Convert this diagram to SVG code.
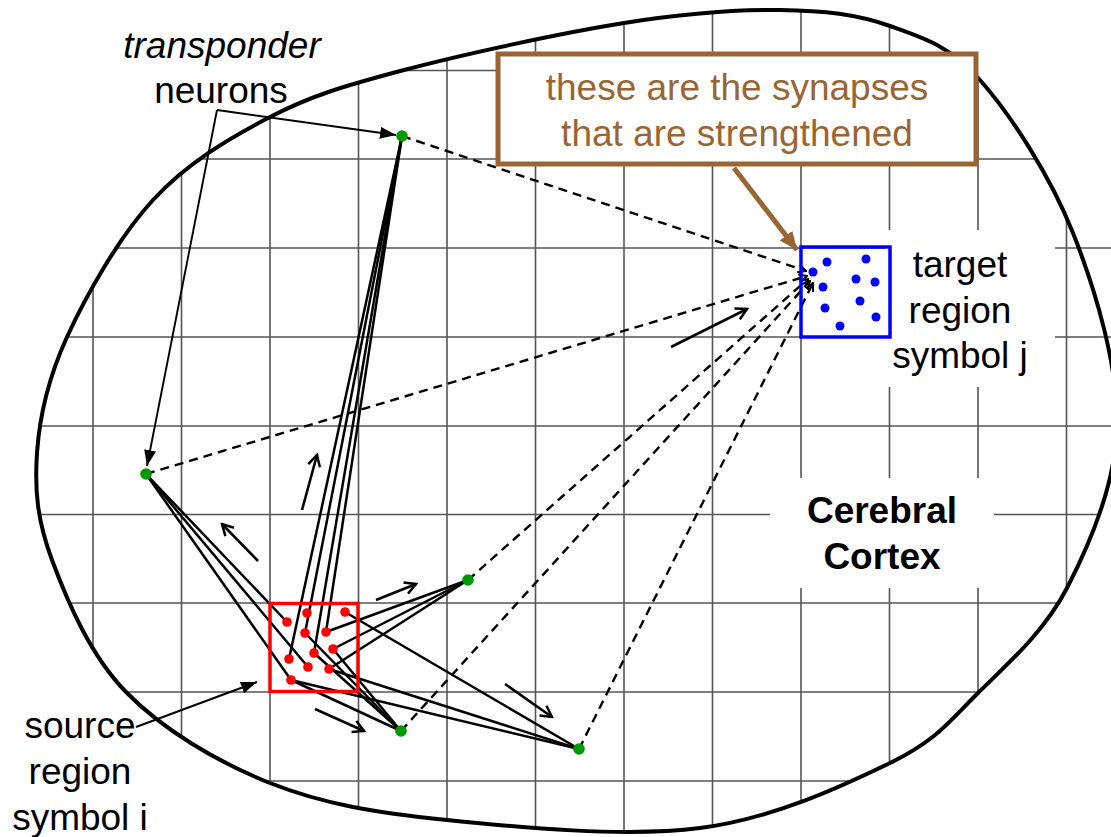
<svg xmlns="http://www.w3.org/2000/svg" width="1111" height="837" viewBox="0 0 1111 837">
<style>
.grid line{stroke:#555;stroke-width:1.6}
.txt{font-family:"Liberation Sans",Arial,sans-serif;font-size:37px;fill:#000;text-anchor:middle}
.solid{stroke:#000;stroke-width:2.5;fill:none}
.dash{stroke:#000;stroke-width:2.4;fill:none;stroke-dasharray:9,6;marker-end:url(#openSm)}
.flow{stroke:#000;stroke-width:2.6;fill:none;marker-end:url(#openLg)}
.ptr{stroke:#000;stroke-width:1.9;fill:none;marker-end:url(#tri)}
.g{fill:#009900}
.r{fill:#ff0000}
.b{fill:#0000ff}
</style>
<defs>
<clipPath id="blobClip">
<path id="blobShape" d="M624,23 C686.7,13 735.7,9.5 780,10 C824.3,10.5 856.7,14.3 890,26 C923.3,37.7 949.5,45.5 980,80 C1010.5,114.5 1050.2,175.5 1073,233 C1095.8,290.5 1118,365.8 1117,425 C1116,484.2 1090.2,543.3 1067,588 C1043.8,632.7 1007.5,663.8 978,693 C948.5,722.2 936.3,740.5 890,763 C843.7,785.5 773.8,818.5 700,828 C626.2,837.5 518.7,827.5 447,820 C375.3,812.5 323.5,804.3 270,783 C216.5,761.7 162.3,729.2 126,692 C89.7,654.8 66.8,599.8 52,560 C37.2,520.2 34.5,490.2 37,453 C39.5,415.8 47.7,379.2 67,337 C86.3,294.8 119.2,236.7 153,200 C186.8,163.3 228.2,138.7 270,117 C311.8,95.3 345,85.7 404,70 C463,54.3 561.3,33 624,23 Z"/>
<rect x="1070" y="240" width="41" height="105"/>
</clipPath>
<marker id="openSm" viewBox="0 0 10 10" refX="9" refY="5" markerWidth="10" markerHeight="10" markerUnits="userSpaceOnUse" orient="auto">
<path d="M1,1 L9,5 L1,9" fill="none" stroke="#000" stroke-width="2" stroke-dasharray="none"/>
</marker>
<marker id="openLg" viewBox="0 0 14 14" refX="12" refY="7" markerWidth="14" markerHeight="14" markerUnits="userSpaceOnUse" orient="auto">
<path d="M1,1 L12,7 L1,13" fill="none" stroke="#000" stroke-width="2.5"/>
</marker>
<marker id="tri" viewBox="0 0 16 12" refX="16" refY="6" markerWidth="16" markerHeight="12" markerUnits="userSpaceOnUse" orient="auto">
<path d="M0,0 L16,6 L0,12 Z" fill="#000"/>
</marker>
<marker id="triBrown" viewBox="0 0 18 16" refX="18" refY="8" markerWidth="18" markerHeight="16" markerUnits="userSpaceOnUse" orient="auto">
<path d="M0,0 L18,8 L0,16 Z" fill="#996633"/>
</marker>
</defs>
<rect width="1111" height="837" fill="#fff"/>

<g id="grid" class="grid" clip-path="url(#blobClip)">
<line x1="93" y1="0" x2="93" y2="837"/>
<line x1="181.5" y1="0" x2="181.5" y2="837"/>
<line x1="270" y1="0" x2="270" y2="837"/>
<line x1="358.5" y1="0" x2="358.5" y2="837"/>
<line x1="447" y1="0" x2="447" y2="837"/>
<line x1="535.5" y1="0" x2="535.5" y2="837"/>
<line x1="624" y1="0" x2="624" y2="837"/>
<line x1="712.5" y1="0" x2="712.5" y2="837"/>
<line x1="801" y1="0" x2="801" y2="837"/>
<line x1="889.5" y1="0" x2="889.5" y2="837"/>
<line x1="978" y1="0" x2="978" y2="837"/>
<line x1="1066.5" y1="0" x2="1066.5" y2="837"/>
<line x1="0" y1="70.5" x2="1111" y2="70.5"/>
<line x1="0" y1="159" x2="1111" y2="159"/>
<line x1="0" y1="248" x2="1111" y2="248"/>
<line x1="0" y1="337" x2="1111" y2="337"/>
<line x1="0" y1="426" x2="1111" y2="426"/>
<line x1="0" y1="514.5" x2="1111" y2="514.5"/>
<line x1="0" y1="603" x2="1111" y2="603"/>
<line x1="0" y1="692" x2="1111" y2="692"/>
<line x1="0" y1="781" x2="1111" y2="781"/>
</g>
<g id="text-backgrounds" fill="#fff">
<rect x="885" y="230" width="170" height="157"/>
<rect x="770" y="478" width="224" height="110"/>
</g>
<g id="cortex-outline">
<use href="#blobShape" fill="none" stroke="#000" stroke-width="4"/>
</g>

<g id="connectors">
<line class="solid" x1="289" y1="659" x2="402" y2="136"/>
<line class="solid" x1="305" y1="633" x2="402" y2="136"/>
<line class="solid" x1="314" y1="653" x2="402" y2="136"/>
<line class="solid" x1="326" y1="632" x2="402" y2="136"/>
<line class="solid" x1="287" y1="622" x2="146" y2="474"/>
<line class="solid" x1="291" y1="680" x2="146" y2="474"/>
<line class="solid" x1="308" y1="667" x2="146" y2="474"/>
<line class="solid" x1="326" y1="632" x2="468" y2="580"/>
<line class="solid" x1="333" y1="649" x2="468" y2="580"/>
<line class="solid" x1="329" y1="669" x2="468" y2="580"/>
<line class="solid" x1="305" y1="633" x2="401" y2="731"/>
<line class="solid" x1="314" y1="653" x2="401" y2="731"/>
<line class="solid" x1="333" y1="649" x2="401" y2="731"/>
<line class="solid" x1="291" y1="680" x2="401" y2="731"/>
<line class="solid" x1="345" y1="612" x2="579" y2="749"/>
<line class="solid" x1="329" y1="669" x2="579" y2="749"/>
<line class="solid" x1="291" y1="680" x2="579" y2="749"/>
<line class="dash" x1="402" y1="136" x2="806" y2="271"/>
<line class="dash" x1="146" y1="474" x2="807" y2="276"/>
<line class="dash" x1="468" y1="580" x2="808" y2="279"/>
<line class="dash" x1="401" y1="731" x2="810" y2="281"/>
<line class="dash" x1="579" y1="749" x2="813" y2="283"/>
<line class="flow" x1="671" y1="347" x2="747" y2="309"/>
<line class="flow" x1="302" y1="510" x2="317" y2="455"/>
<line class="flow" x1="258" y1="561" x2="222" y2="524"/>
<line class="flow" x1="376" y1="600" x2="416" y2="584"/>
<line class="flow" x1="505" y1="684" x2="552" y2="717"/>
<line class="flow" x1="315" y1="709" x2="364" y2="731"/>
<path class="ptr" d="M217,110 L396,135"/>
<path class="ptr" d="M217,110 L147,466"/>
<path class="ptr" d="M136,727 L257,682"/>
<line x1="734" y1="168" x2="797" y2="250" stroke="#996633" stroke-width="5" marker-end="url(#triBrown)"/>
</g>

<g id="source-region">
<rect x="270" y="603.5" width="88" height="88" fill="none" stroke="#ff0000" stroke-width="3.5"/>
<circle class="r" cx="287" cy="622" r="4.8"/>
<circle class="r" cx="307" cy="613" r="4.8"/>
<circle class="r" cx="345" cy="612" r="4.8"/>
<circle class="r" cx="305" cy="633" r="4.8"/>
<circle class="r" cx="326" cy="632" r="4.8"/>
<circle class="r" cx="314" cy="653" r="4.8"/>
<circle class="r" cx="333" cy="649" r="4.8"/>
<circle class="r" cx="289" cy="659" r="4.8"/>
<circle class="r" cx="308" cy="667" r="4.8"/>
<circle class="r" cx="329" cy="669" r="4.8"/>
<circle class="r" cx="291" cy="680" r="4.8"/>
</g>

<g id="target-region">
<rect x="801" y="247" width="89" height="90" fill="none" stroke="#0000ff" stroke-width="3.5"/>
<circle class="b" cx="813" cy="272" r="4.5"/>
<circle class="b" cx="827" cy="262" r="4.5"/>
<circle class="b" cx="866" cy="259" r="4.5"/>
<circle class="b" cx="823" cy="287" r="4.5"/>
<circle class="b" cx="856" cy="279" r="4.5"/>
<circle class="b" cx="875" cy="282" r="4.5"/>
<circle class="b" cx="825" cy="308" r="4.5"/>
<circle class="b" cx="860" cy="301" r="4.5"/>
<circle class="b" cx="876" cy="317" r="4.5"/>
<circle class="b" cx="840" cy="326" r="4.5"/>
</g>

<g id="transponder-neurons">
<circle class="g" cx="402" cy="136" r="5.8"/>
<circle class="g" cx="146" cy="474" r="5.8"/>
<circle class="g" cx="468" cy="580" r="5.8"/>
<circle class="g" cx="401" cy="731" r="5.8"/>
<circle class="g" cx="579" cy="749" r="5.8"/>
</g>

<g id="callout">
<rect x="498" y="54" width="478" height="110" fill="#fff" stroke="#996633" stroke-width="5"/>
<text class="txt" x="737" y="100" style="fill:#996633">these are the synapses</text>
<text class="txt" x="737" y="146" style="fill:#996633">that are strengthened</text>
</g>

<g id="label-transponder">
<text class="txt" x="222" y="58" font-style="italic">transponder</text>
<text class="txt" x="221" y="103">neurons</text>
</g>
<g id="label-target">
<text class="txt" x="960" y="277">target</text>
<text class="txt" x="960" y="323">region</text>
<text class="txt" x="960" y="368">symbol j</text>
</g>
<g id="label-source">
<text class="txt" x="80" y="738">source</text>
<text class="txt" x="80" y="784">region</text>
<text class="txt" x="80" y="830">symbol i</text>
</g>
<g id="label-cortex">
<text class="txt" x="882" y="523" font-weight="bold">Cerebral</text>
<text class="txt" x="882" y="569" font-weight="bold">Cortex</text>
</g>
</svg>
